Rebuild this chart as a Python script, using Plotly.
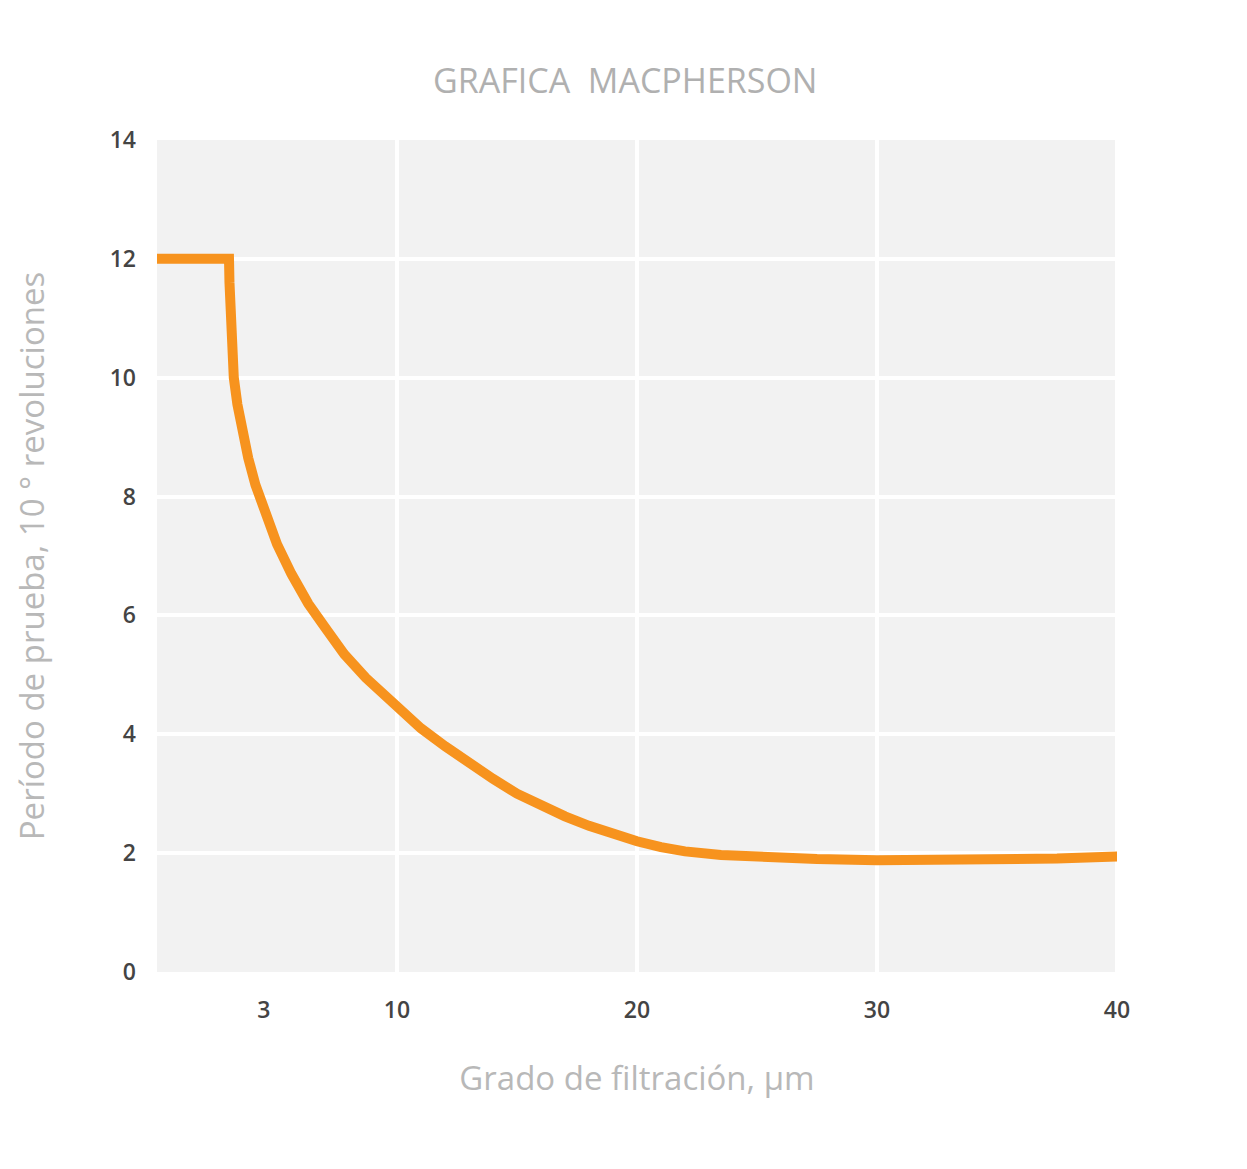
import plotly.graph_objects as go

# curve
grado = [-0.4, 3.0, 3.02, 3.05, 3.1, 3.2, 3.35, 3.55, 3.8, 4.1, 4.5, 5.0, 5.6, 6.3, 7.0, 7.8, 8.7, 10, 11, 12, 13, 14, 15, 16, 17, 18, 19, 20,
         21, 22, 23.5, 25, 27.5, 30, 32.5, 35, 37.5, 40.5]
periodo = [12, 12, 11.6, 11.0, 10.5, 10.0, 9.55, 9.1, 8.65, 8.2, 7.7, 7.2, 6.7, 6.2, 5.8, 5.35, 4.95, 4.45, 4.1, 3.8, 3.5, 3.25, 3.0, 2.8,
           2.62, 2.46, 2.32, 2.2, 2.1, 2.03, 1.97, 1.93, 1.9, 1.88, 1.88, 1.89, 1.91, 1.95]

x_tickvals = [4.45, 10, 20, 30, 40]
x_ticktext = ["3", "10", "20", "30", "40"]
y_tickvals = [0, 2, 4, 6, 8, 10, 12, 14]

fig = go.Figure()
fig.add_trace(go.Scatter(x=grado, y=periodo, mode="lines",
                         line=dict(color="#F7931E", width=10, shape="linear"),
                         cliponaxis=False, hoverinfo="skip"))

# vertical gridlines only at 10..40
for gx in [10, 20, 30, 40]:
    fig.add_shape(type="line", x0=gx, x1=gx, y0=0, y1=14, xref="x", yref="y",
                  line=dict(color="white", width=4), layer="below")

fig.update_layout(
    width=1247, height=1169,
    paper_bgcolor="white", plot_bgcolor="#f2f2f2",
    margin=dict(l=149, r=138, t=132, b=205),
    showlegend=False,
    font=dict(family="Open Sans", color="#444"),
    title=dict(text="GRAFICA  MACPHERSON", x=0.495, xanchor="center", y=0.948,
               font=dict(size=34, color="#b0b0b0")),
)
fig.update_xaxes(range=[0, 40], showgrid=False, zeroline=False, tickvals=x_tickvals,
                 ticktext=x_ticktext, ticks="", ticklabelstandoff=22,
                 tickfont=dict(size=23, color="#444", weight=600),
                 title=dict(text="Grado de filtración, µm", font=dict(size=33, color="#b8b8b8"),
                            standoff=42))
fig.update_yaxes(range=[0, 14], tickvals=y_tickvals, gridcolor="white", gridwidth=4,
                 zeroline=False, ticks="", ticklabelstandoff=20,
                 tickfont=dict(size=23, color="#444", weight=600),
                 title=dict(text="Período de prueba, 10 ° revoluciones",
                            font=dict(size=33, color="#b8b8b8"), standoff=55))

fig.write_html("out.html")
